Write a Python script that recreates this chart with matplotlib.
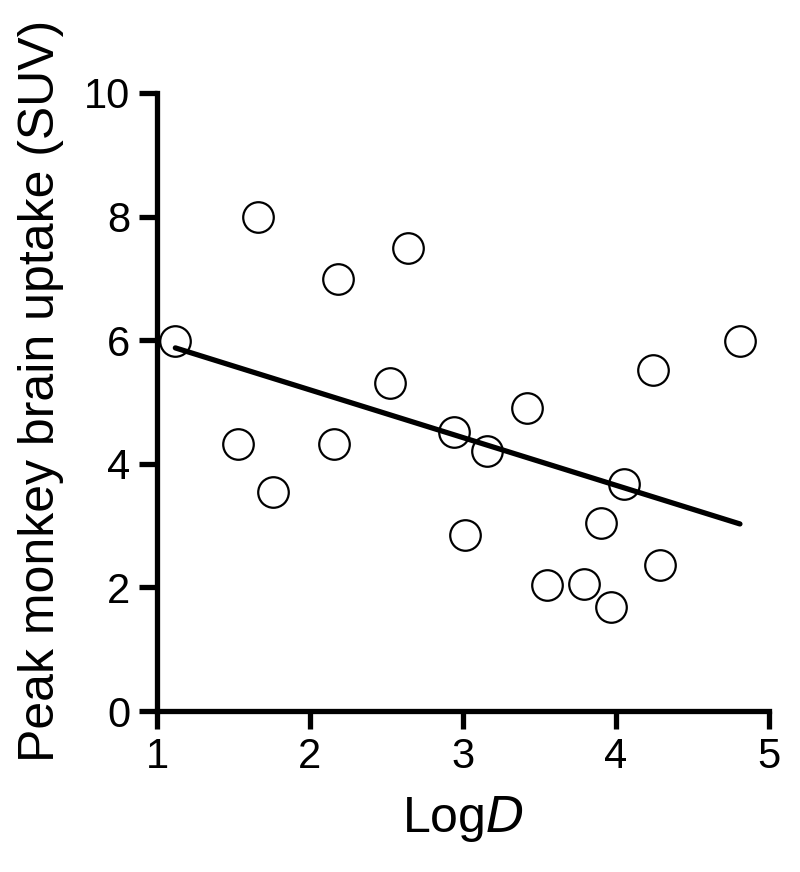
import matplotlib
matplotlib.use("Agg")
import matplotlib.pyplot as plt
import numpy as np

plt.rcParams['font.family'] = ['Liberation Sans', 'DejaVu Sans']

# LogD vs peak monkey brain uptake (SUV)
log_d = [1.12, 1.53, 1.66, 1.76, 2.16, 2.18, 2.52, 2.64, 2.94, 3.01,
         3.16, 3.42, 3.55, 3.79, 3.90, 3.97, 4.05, 4.24, 4.29, 4.81]
suv = [5.99, 4.32, 7.99, 3.55, 4.32, 6.99, 5.31, 7.49, 4.52, 2.84,
       4.20, 4.91, 2.04, 2.06, 3.05, 1.69, 3.68, 5.52, 2.36, 5.99]

# regression line as drawn in the figure
fit_slope = -0.772
fit_intercept = 6.74

x_ticks = [1, 2, 3, 4, 5]
y_ticks = [0, 2, 4, 6, 8, 10]

fig = plt.figure(figsize=(8, 8.72), dpi=100)
ax = fig.add_axes([157 / 800, 1 - 711 / 872, (769 - 157) / 800, (711 - 93) / 872])

xs = np.array([min(log_d), max(log_d)])
ax.plot(xs, fit_intercept + fit_slope * xs, color='black', lw=3.8,
        solid_capstyle='round', zorder=2)
ax.plot(log_d, suv, 'o', ms=22, mfc='none', mec='black', mew=1.6, zorder=3)

ax.set_xlim(1, 5)
ax.set_ylim(0, 10)
ax.set_xticks(x_ticks)
ax.set_yticks(y_ticks)
ax.tick_params(labelsize=30, length=13, width=3.8, pad=6)

for side in ['top', 'right']:
    ax.spines[side].set_visible(False)
for side in ['left', 'bottom']:
    ax.spines[side].set_linewidth(3.8)

ax.set_xlabel('Log$\\it{D}$', fontsize=36, labelpad=12)
fig.text(41 / 800, 1 - 391 / 872, 'Peak monkey brain uptake (SUV)',
         rotation=90, ha='center', va='center', fontsize=36)

fig.savefig('out.png', dpi=100)
